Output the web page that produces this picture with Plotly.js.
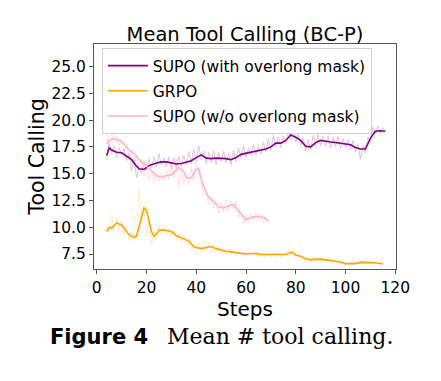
<!DOCTYPE html>
<html>
<head>
<meta charset="utf-8">
<script src="https://cdn.plot.ly/plotly-3.0.1.min.js"></script>
<style>html,body{margin:0;padding:0;background:#fff;}#chart{width:441px;height:381px;}</style>
</head>
<body>
<div id="chart"></div>
<script>
// ---- Data ----
const seriesNames = ["SUPO (with overlong mask)", "GRPO", "SUPO (w/o overlong mask)"];

// SUPO (with overlong mask): raw per-step values
const supoMaskRawSteps = [4,5,6,7,8,9,10,11,12,13,14,15,16,17,18,19,20,21,22,23,24,25,26,27,28,29,30,31,32,33,34,35,36,37,38,39,40,41,42,43,44,45,46,47,48,49,50,51,52,53,54,55,56,57,58,59,60,61,62,63,64,65,66,67,68,69,70,71,72,73,74,75,76,77,78,79,80,81,82,83,84,85,86,87,88,89,90,91,92,93,94,95,96,97,98,99,100,101,102,103,104,105,106,107,108,109,110,111,112,113,114,115,116];
const supoMaskRaw = [16.3,17.9,16.9,17.6,16.5,17.4,16.8,17.3,16.2,16.9,15.2,16.4,14.6,15.6,15.0,16.2,15.3,16.4,15.5,16.6,15.6,16.9,15.8,16.5,15.6,16.6,15.4,16.5,15.5,16.6,15.7,16.7,15.8,17.1,16.0,17.3,16.2,17.6,16.3,17.1,15.9,17.0,16.0,17.2,15.8,17.0,16.1,17.1,16.0,16.9,15.8,17.2,16.1,17.4,16.4,17.6,16.5,17.4,16.6,17.7,16.7,17.6,16.8,18.0,17.0,18.3,17.2,18.6,17.5,18.4,17.4,18.5,17.8,19.2,18.2,19.3,17.9,18.7,17.6,18.3,17.1,18.2,17.2,18.6,17.5,18.7,17.6,18.5,17.5,18.6,17.4,18.4,17.5,18.5,17.3,18.3,17.4,18.2,17.2,18.1,17.0,17.8,16.3,17.6,16.9,18.4,17.9,19.4,18.7,19.5,18.8,19.3,18.9];
// SUPO (with overlong mask): smoothed curve
const supoMaskSmoothSteps = [4,5,6,8,10,12,14,16,17,19,21,24,26,28,30,32,34,36,38,40,42,44,46,48,50,52,54,56,58,60,62,64,66,68,70,72,74,76,78,80,82,84,86,88,90,92,94,96,98,100,102,104,106,108,110,112,114,116];
const supoMaskSmooth = [16.7,17.4,17.2,17.0,16.95,16.6,16.3,15.7,15.45,15.4,15.75,16.0,16.1,16.1,16.0,15.9,15.95,16.1,16.2,16.5,16.75,16.45,16.4,16.45,16.45,16.4,16.3,16.5,16.8,16.9,16.95,17.05,17.15,17.3,17.5,17.85,17.85,18.1,18.6,18.4,18.1,17.55,17.5,17.9,18.1,18.0,17.95,17.9,17.85,17.75,17.7,17.45,17.3,17.3,18.3,18.95,19.0,18.95];

// GRPO
const grpoRawSteps = [4,5,6,7,8,9,10,11,12,13,14,15,16,17,18,19,20,21,22,23,24,25,26,27,28,29,30,31,32,33,34,35,36,37,38,39,40,41,42,43,44,45,46,47,48,49,50,51,52,53,54,55,56,57,58,59,60,61,62,63,64,65,66,67,68,69,70,71,72,73,74,75,76,77,78,79,80,81,82,83,84,85,86,87,88,89,90,91,92,93,94,95,96,97,98,99,100,101,102,103,104,105,106,107,108,109,110,111,112,113,114,115];
const grpoRaw = [10.2,9.4,11.2,9.8,10.9,9.7,10.6,9.3,10.0,8.8,9.6,8.7,9.4,13.6,10.4,12.0,9.1,10.8,8.3,9.6,8.8,10.1,9.2,10.2,9.3,10.0,9.1,9.8,8.7,9.5,8.6,9.3,8.4,9.1,7.9,8.5,7.7,8.6,7.6,8.4,7.8,8.6,7.5,8.4,7.7,8.2,7.5,8.0,7.4,8.0,7.4,7.9,7.3,7.8,7.3,7.7,7.3,7.8,7.3,7.8,7.3,7.7,7.2,7.6,7.2,7.6,7.2,7.6,7.2,7.7,7.2,7.6,7.3,7.9,7.5,7.8,7.2,7.4,7.0,7.2,6.8,7.1,6.8,7.2,6.9,7.2,6.8,7.1,6.8,7.1,6.7,7.0,6.7,6.9,6.6,6.8,6.5,6.7,6.4,7.1,6.5,6.9,6.6,6.9,6.6,6.8,6.6,6.8,6.6,6.7,6.5,6.6];
const grpoSmoothSteps = [4,5,6,7,8,9,10,11,12,13,14,15,16,17,18,19,20,21,22,23,24,25,26,28,30,31,32,33,34,35,36,37,38,39,40,42,44,46,48,50,52,54,56,58,60,62,64,66,68,70,72,74,76,78,79,80,82,84,86,88,90,92,94,96,98,100,102,104,106,108,110,112,114,115];
const grpoSmooth = [9.6,10.0,9.9,10.2,10.4,10.3,10.2,9.9,9.6,9.3,9.15,9.05,9.15,10.0,11.0,11.8,11.6,10.5,9.6,9.15,9.35,9.7,9.75,9.7,9.6,9.4,9.2,9.1,9.0,8.95,8.8,8.7,8.45,8.2,8.1,8.0,8.1,8.2,8.0,7.85,7.75,7.7,7.65,7.55,7.5,7.55,7.55,7.45,7.45,7.4,7.42,7.4,7.45,7.65,7.62,7.4,7.3,7.05,6.95,7.0,7.02,6.95,6.9,6.85,6.75,6.6,6.58,6.6,6.72,6.72,6.7,6.68,6.62,6.57];

// SUPO (w/o overlong mask)
const supoNoMaskRawSteps = [4,5,6,7,8,9,10,11,12,13,14,15,16,17,18,19,20,21,22,23,24,25,26,27,28,29,30,31,32,33,34,35,36,37,38,39,40,41,42,43,44,45,46,47,48,49,50,51,52,53,54,55,56,57,58,59,60,61,62,63,64,65,66,67,68,69];
const supoNoMaskRaw = [18.9,17.6,18.8,17.9,18.5,17.5,18.3,17.0,17.6,16.3,17.2,15.8,16.8,15.2,16.4,14.8,15.9,14.4,15.3,14.1,15.2,14.2,15.0,14.3,15.4,14.4,15.9,14.6,16.5,13.7,15.4,14.0,15.0,13.9,15.6,14.3,16.4,15.0,14.2,13.0,13.3,12.1,12.9,11.8,12.6,11.3,12.3,11.4,12.6,11.5,12.5,11.6,12.6,10.9,11.5,10.3,11.2,10.4,11.3,10.6,11.4,10.7,11.2,10.4,11.0,10.3];
const supoNoMaskSmoothSteps = [4,5,7,9,11,13,15,17,19,21,24,26,28,30,32,33,35,36,38,40,41,42,43.5,45,47,49,51,53,55,57,59,60,62,64,66,68,69];
const supoNoMaskSmooth = [17.8,18.1,18.3,18.1,17.8,17.2,16.9,16.3,15.9,15.5,14.8,14.7,14.8,14.9,15.3,15.6,15.2,14.6,14.6,15.4,15.5,14.5,13.5,12.8,12.4,11.9,11.8,12.0,12.1,11.5,10.9,10.7,10.9,11.0,11.0,10.8,10.6];

// Axis ticks
const yTicks = [7.5,10.0,12.5,15.0,17.5,20.0,22.5,25.0];
const xTicks = [0,20,40,60,80,100,120];

const cPurple = "#800080", cOrange = "#FFA500", cPink = "#FFB6C1";

const traces = [
  {x: supoMaskRawSteps, y: supoMaskRaw, mode: "lines", line: {color: "rgba(128,0,128,0.22)", width: 1.1}, showlegend: false, hoverinfo: "skip"},
  {x: grpoRawSteps, y: grpoRaw, mode: "lines", line: {color: "rgba(255,165,0,0.2)", width: 1.1}, showlegend: false, hoverinfo: "skip"},
  {x: supoNoMaskRawSteps, y: supoNoMaskRaw, mode: "lines", line: {color: "rgba(255,182,193,0.4)", width: 1.1}, showlegend: false, hoverinfo: "skip"},
  {x: supoMaskSmoothSteps, y: supoMaskSmooth, mode: "lines", name: seriesNames[0], legendgroup: "a", line: {color: cPurple, width: 1.6}},
  {x: grpoSmoothSteps, y: grpoSmooth, mode: "lines", name: seriesNames[1], legendgroup: "b", line: {color: cOrange, width: 1.6}},
  {x: supoNoMaskSmoothSteps, y: supoNoMaskSmooth, mode: "lines", name: seriesNames[2], legendgroup: "c", line: {color: cPink, width: 1.6}}
];

const axisCommon = {
  showline: true, mirror: true, linecolor: "#555", linewidth: 1,
  ticks: "outside", ticklen: 4, tickcolor: "#555", tickwidth: 1,
  showgrid: false, zeroline: false,
  tickfont: {family: "DejaVu Sans", size: 15.5, color: "#000"}
};

const layout = {
  width: 441, height: 381, autosize: false,
  margin: {l: 94, r: 45, t: 44, b: 112},
  paper_bgcolor: "#fff", plot_bgcolor: "#fff",
  title: {text: "Mean Tool Calling (BC-P)", font: {family: "DejaVu Sans", size: 19.5, color: "#000"},
          x: 0.5, xref: "paper", xanchor: "center", y: 0.911, yref: "container", yanchor: "middle"},
  xaxis: Object.assign({}, axisCommon, {range: [-1.1, 120.3], tickvals: xTicks, ticktext: xTicks.map(String),
          title: {text: "Steps", font: {family: "DejaVu Sans", size: 20, color: "#000"}, standoff: 4}}),
  yaxis: Object.assign({}, axisCommon, {range: [6.1, 27.1], tickvals: yTicks, ticktext: yTicks.map(v => v.toFixed(1)),
          title: {text: "Tool Calling", font: {family: "DejaVu Sans", size: 20.5, color: "#000"}, standoff: 1}}),
  showlegend: true,
  legend: {x: 0.026, y: 0.982, xanchor: "left", yanchor: "top", bgcolor: "rgba(255,255,255,0.85)",
           bordercolor: "#d0d0d0", borderwidth: 1, font: {family: "DejaVu Sans", size: 15.5, color: "#000"},
           traceorder: "grouped", tracegroupgap: 2, itemwidth: 40},
  annotations: [
    {text: "<b>Figure 4</b>", xref: "paper", yref: "paper", x: -0.152, y: -0.302, xanchor: "left", yanchor: "middle",
     showarrow: false, font: {family: "DejaVu Sans", size: 21, color: "#000"}},
    {text: "Mean # tool calling.", xref: "paper", yref: "paper", x: 0.235, y: -0.302, xanchor: "left", yanchor: "middle",
     showarrow: false, font: {family: "DejaVu Serif", size: 22, color: "#000"}}
  ]
};

Plotly.newPlot("chart", traces, layout, {staticPlot: true, displayModeBar: false});
</script>
</body>
</html>
